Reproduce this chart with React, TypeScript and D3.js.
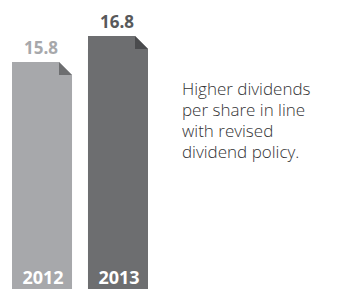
import * as d3 from 'd3';
import React, { useEffect, useRef } from 'react';

const years = ['2012', '2013'];
const values = [15.8, 16.8];
const barColors = ['#a7a8ab', '#6d6e70'];
const foldColors = ['#6d6e70', '#4a4b4d'];
const labelColors = ['#a7a8ab', '#58595b'];
const noteLines = ['Higher dividends', 'per share in line', 'with revised', 'dividend policy.'];

export default function App() {
  const ref = useRef<SVGSVGElement>(null);

  useEffect(() => {
    const svg = d3.select(ref.current);
    svg.selectAll('*').remove();
    const width = 355;
    const height = 289;
    const font = "'Open Sans', 'DejaVu Sans', sans-serif";

    const x = d3.scaleBand().domain(years).range([12, 148]).paddingInner(0.21).paddingOuter(0);
    const y = d3.scaleLinear().domain([7.1, 16.8]).range([height, 36]);
    const fold = 13;

    const g = svg.append('g');
    const bars = g
      .selectAll('g.bar')
      .data(years)
      .enter()
      .append('g')
      .attr('class', 'bar');

    // bar body with clipped top-right corner
    bars
      .append('path')
      .attr('d', (d, i) => {
        const x0 = x(d)!;
        const x1 = x0 + x.bandwidth();
        const y0 = y(values[i]);
        return `M${x0},${y0}L${x1 - fold},${y0}L${x1},${y0 + fold}L${x1},${height}L${x0},${height}Z`;
      })
      .attr('fill', (d, i) => barColors[i]);

    // folded corner
    bars
      .append('path')
      .attr('d', (d, i) => {
        const x1 = x(d)! + x.bandwidth();
        const y0 = y(values[i]);
        return `M${x1 - fold},${y0}L${x1},${y0 + fold}L${x1 - fold},${y0 + fold}Z`;
      })
      .attr('fill', (d, i) => foldColors[i]);

    bars
      .append('text')
      .attr('x', (d) => x(d)! + x.bandwidth() / 2 - 1)
      .attr('y', (d, i) => y(values[i]) - 8)
      .attr('text-anchor', 'middle')
      .attr('font-family', font)
      .attr('font-weight', 700)
      .attr('font-size', 17)
      .attr('fill', (d, i) => labelColors[i])
      .text((d, i) => values[i].toFixed(1));

    bars
      .append('text')
      .attr('x', (d) => x(d)! + x.bandwidth() / 2 + 1)
      .attr('y', height - 5)
      .attr('text-anchor', 'middle')
      .attr('font-family', font)
      .attr('font-weight', 700)
      .attr('font-size', 18)
      .attr('fill', '#ffffff')
      .text((d) => d);

    svg
      .append('text')
      .attr('font-family', font)
      .attr('font-weight', 300)
      .attr('font-size', 17)
      .attr('fill', '#333335')
      .selectAll('tspan')
      .data(noteLines)
      .enter()
      .append('tspan')
      .attr('x', 182)
      .attr('y', (d, i) => 95 + i * 21)
      .text((d) => d);

    svg.attr('width', width).attr('height', height);
  }, []);

  return (
    <svg
      ref={ref}
      width={355}
      height={289}
      style={{ position: 'absolute', left: 0, top: 0, background: '#fff' }}
    />
  );
}
